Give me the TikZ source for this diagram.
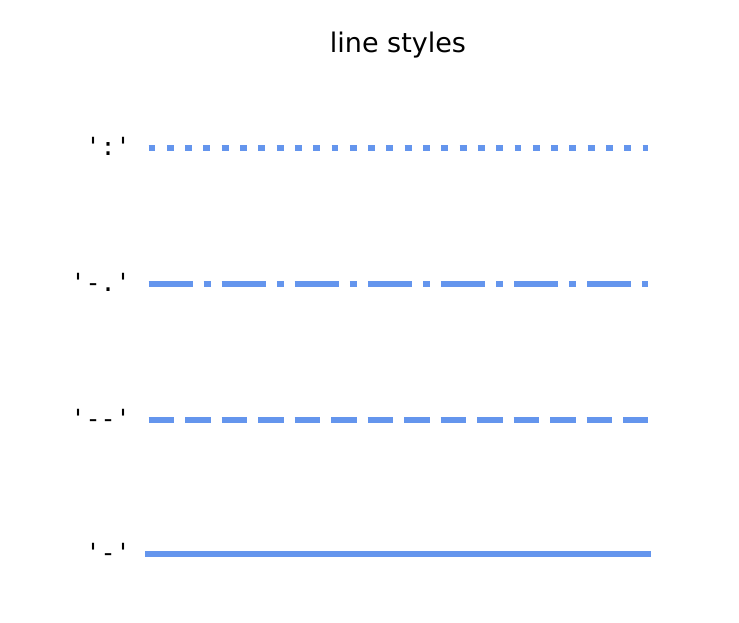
\documentclass[tikz,border=0pt]{standalone}
\usepackage{fontspec}
\setmainfont{DejaVu Sans}
\setmonofont{DejaVu Sans Mono}
\definecolor{cornflower}{HTML}{6495ED}
\begin{document}
\begin{tikzpicture}[
			x=1pt, y=-1pt,
			linea/.style={line width=6.9pt, cornflower},
			puntini/.style={linea, dash pattern=on 6.9pt off 11.4pt},
			trattopunto/.style={linea,
				dash pattern=on 44.2pt off 11pt on 6.9pt off 11pt},
			tratteggio/.style={linea, dash pattern=on 25.5pt off 11pt},
			continua/.style={linea, line cap=rect},
			etichetta/.style={anchor=base east, inner sep=0pt,
				font=\fontsize{25}{25}\ttfamily},
			]
			\useasboundingbox (0,0) rectangle (739,623);
			
			\node[anchor=base, inner sep=0pt, font=\fontsize{27}{27}\selectfont]
			(titolo) at (398,53) {line styles};
			
			\coordinate (A0) at (148.5,148);
			\coordinate (B0) at (648,148);
			\draw[puntini](A0)--(B0);
			\node[etichetta] (L0) at (131,155.5) {':'};
			
			\coordinate (A1) at (148.5,284);
			\coordinate (B1) at (648,284);
			\draw[trattopunto](A1)--(B1);
			\node[etichetta] (L1) at (131,291.5) {'-.'};
			
			\coordinate (A2) at (148.5,420);
			\coordinate (B2) at (648,420);
			\draw[tratteggio](A2)--(B2);
			\node[etichetta] (L2) at (131,427.5) {'--'};
			
			\coordinate (A3) at (148.5,554);
			\coordinate (B3) at (648,554);
			\draw[continua](A3)--(B3);
			\node[etichetta] (L3) at (131,561.5) {'-'};
		\end{tikzpicture}
\end{document}
